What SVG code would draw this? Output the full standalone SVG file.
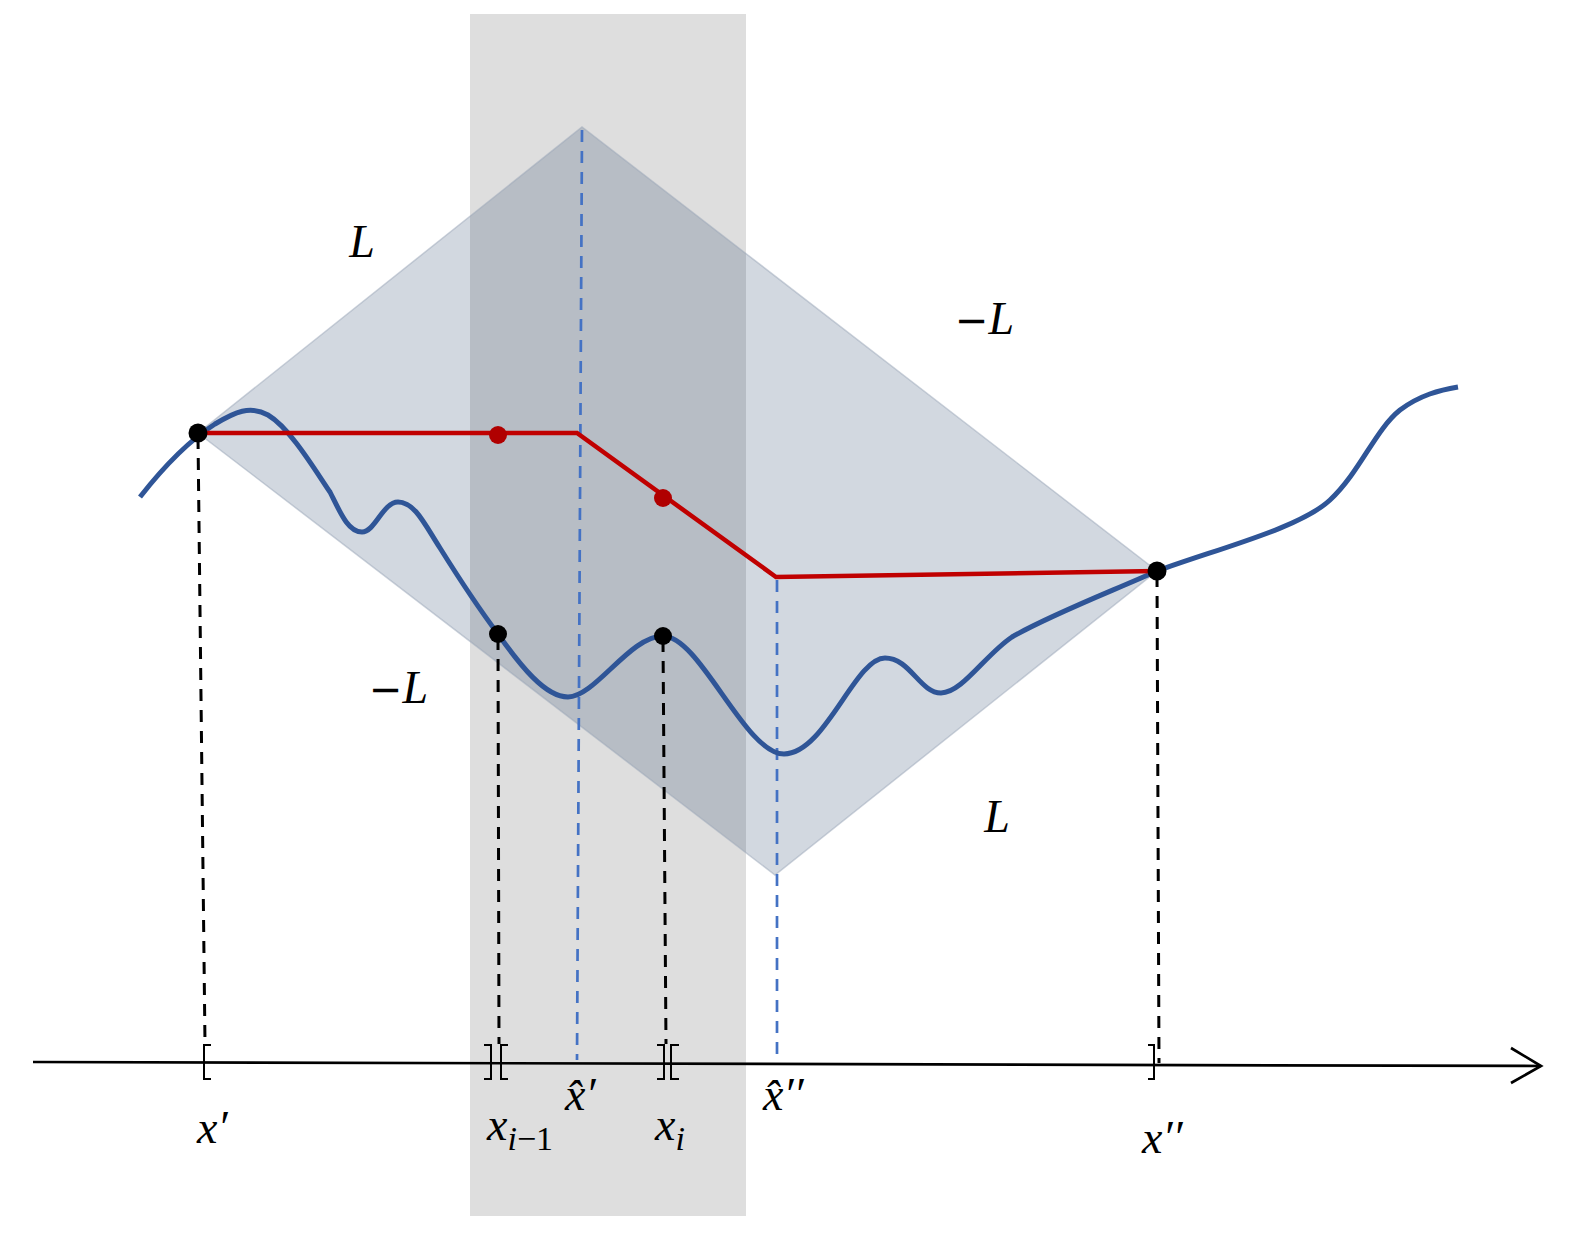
<svg xmlns="http://www.w3.org/2000/svg" width="1586" height="1241" viewBox="0 0 1586 1241">
<style>
.lbl{font-family:"Liberation Serif","DejaVu Serif",serif;font-style:italic;font-size:46px;fill:#000}
.sub{font-size:34px}
.up{font-style:normal}
.mn{font-family:"DejaVu Sans",sans-serif;font-style:normal;font-size:40px}
.bdash{fill:none;stroke:#000;stroke-width:3;stroke-dasharray:12 9}
.udash{fill:none;stroke:#4472c4;stroke-width:2.7;stroke-dasharray:12 9}
.brk{fill:none;stroke:#000;stroke-width:2}
.dot{fill:#000}
.rdot{fill:#b00000}
</style>
<rect id="band" x="470" y="14" width="276" height="1202" fill="#dedede"/>
<g id="cone">
<polygon points="198,433 582,127 1157,571 775,875" fill="#1f3d66" fill-opacity="0.2" stroke="#9aa6b8" stroke-opacity="0.5" stroke-width="1.5"/>
</g>
<g id="connectors">
<path class="bdash" d="M198,437 L205,1044"/>
<path class="bdash" d="M498,638 L499,1044"/>
<path class="bdash" d="M663,640 L666,1044"/>
<path class="bdash" d="M1157,575 L1159,1063"/>
<path class="udash" d="M582,130 L577,1060"/>
<path class="udash" d="M777,580 L777,1063"/>
<path d="M33,1062 L1541,1066" fill="none" stroke="#000" stroke-width="2.7"/>
<polyline points="1511,1048 1541,1066 1511,1083" fill="none" stroke="#000" stroke-width="2.7"/>
<path class="brk" d="M211,1045 H204 V1079 H211"/>
<path class="brk" d="M484,1045 H491 V1079 H484"/>
<path class="brk" d="M508,1045 H501 V1079 H508"/>
<path class="brk" d="M657,1045 H664 V1079 H657"/>
<path class="brk" d="M679,1045 H671 V1079 H679"/>
<path class="brk" d="M1148,1045 H1154 V1079 H1148"/>
</g>
<g id="curve">
<path d="M140,497 C165,465 190,440 215,424 C235,412 250,405 268,415 C290,428 315,470 330,492 C340,512 348,532 362,532 C375,532 383,502 398,502 C415,502 425,525 440,548 C460,580 480,610 498,634 C520,665 545,697 568,697 C595,697 630,636 663,636 C700,636 745,754 784,754 C825,754 855,658 885,658 C910,658 920,693 941,693 C962,693 985,655 1012,637 C1050,615 1110,592 1157,571 C1220,548 1300,528 1330,500 C1360,472 1375,430 1400,410 C1420,395 1440,390 1458,387" fill="none" stroke="#2f5597" stroke-width="5"/>
</g>
<g id="upper-bound">
<polyline points="198,433 577,433 776,577 1157,571" fill="none" stroke="#c00000" stroke-width="4.5"/>
<circle class="rdot" cx="498" cy="435" r="9"/>
<circle class="rdot" cx="663" cy="498" r="9"/>
</g>
<g id="points">
<circle class="dot" cx="198" cy="433" r="9.5"/>
<circle class="dot" cx="498" cy="634" r="9"/>
<circle class="dot" cx="663" cy="636" r="9"/>
<circle class="dot" cx="1157" cy="571" r="9.5"/>
</g>
<g id="labels">
<text class="lbl" x="362" y="257" text-anchor="middle">L</text>
<text class="lbl" x="955" y="334"><tspan class="mn">−</tspan>L</text>
<text class="lbl" x="369" y="703"><tspan class="mn">−</tspan>L</text>
<text class="lbl" x="997" y="832" text-anchor="middle">L</text>
<text class="lbl" x="197" y="1143">x′</text>
<text class="lbl" x="487" y="1140">x<tspan class="sub" dy="10">i<tspan class="up">−1</tspan></tspan></text>
<text class="lbl" x="565" y="1110">x̂′</text>
<text class="lbl" x="655" y="1140">x<tspan class="sub" dy="10">i</tspan></text>
<text class="lbl" x="763" y="1110">x̂′′</text>
<text class="lbl" x="1142" y="1153">x′′</text>
</g>
</svg>
